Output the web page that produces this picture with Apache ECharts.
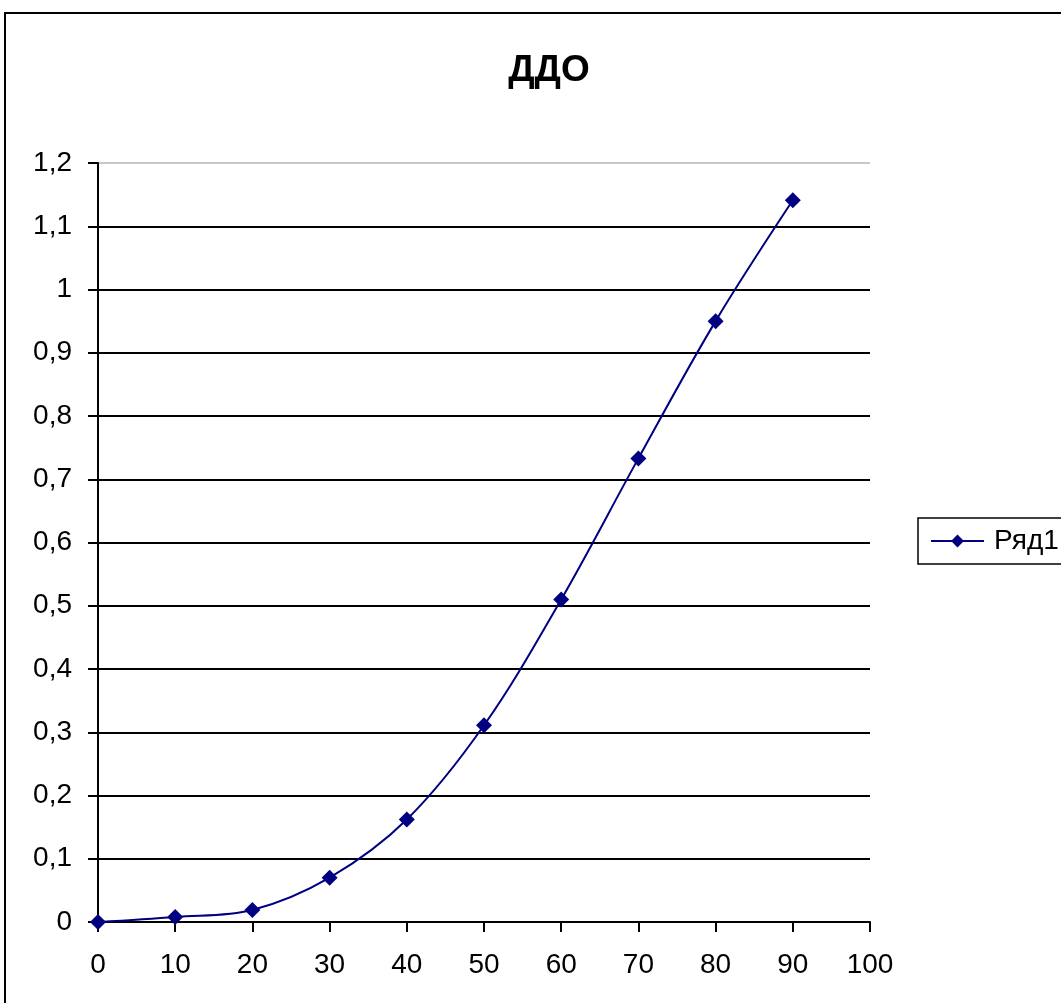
<!DOCTYPE html>
<html>
<head>
<meta charset="utf-8">
<title>ДДО</title>
<script src="https://cdn.jsdelivr.net/npm/echarts@6/dist/echarts.min.js"></script>
<style>
  html, body { margin: 0; padding: 0; background: #fff; }
  #chart { width: 1061px; height: 1003px; }
</style>
</head>
<body>
<div id="chart"></div>
<script>
// Angle values (x) and measured ДДО values (y)
const angles = [0, 10, 20, 30, 40, 50, 60, 70, 80, 90];
const ddoValues = [0, 0.008, 0.019, 0.07, 0.162, 0.311, 0.51, 0.733, 0.95, 1.141];
const seriesName = 'Ряд1';
const chartTitle = 'ДДО';

const points = angles.map((a, i) => [a, ddoValues[i]]);
const FONT = '"Liberation Sans", Arial, sans-serif';

// 13 horizontal grid lines (0 … 1,2): the topmost one is drawn light grey
const gridColors = Array.from({ length: 13 }, (_, i) => (i === 12 ? '#c8c8c8' : '#000'));

const chart = echarts.init(document.getElementById('chart'), null, { renderer: 'canvas' });
chart.setOption({
  backgroundColor: '#fff',
  animation: false,
  graphic: [{
    type: 'rect',
    shape: { x: 5, y: 13, width: 1200, height: 1200 },
    style: { fill: 'none', stroke: '#000', lineWidth: 2 },
    silent: true
  }],
  title: {
    text: chartTitle,
    left: 544,
    textAlign: 'center',
    top: 47,
    textStyle: { fontFamily: FONT, fontSize: 37, fontWeight: 'bold', color: '#000' }
  },
  legend: {
    left: 918,
    top: 518,
    orient: 'vertical',
    padding: [9, 12, 9, 12],
    borderColor: '#000',
    borderWidth: 1.5,
    itemWidth: 53,
    itemHeight: 16,
    textStyle: { fontFamily: FONT, fontSize: 28, color: '#000', padding: [0, 0, 0, 5] },
    data: [seriesName]
  },
  grid: { left: 98, right: 191, top: 163, bottom: 81 },
  xAxis: {
    type: 'value',
    min: 0, max: 100, interval: 10,
    axisLine: { lineStyle: { color: '#000', width: 2 } },
    axisTick: { show: true, length: 10, lineStyle: { color: '#000', width: 2 } },
    axisLabel: { margin: 29, color: '#000', fontFamily: FONT, fontSize: 28 },
    splitLine: { show: false }
  },
  yAxis: {
    type: 'value',
    min: 0, max: 1.2, interval: 0.1,
    axisLine: { show: true, lineStyle: { color: '#000', width: 2 } },
    axisTick: { show: true, length: 10, lineStyle: { color: '#000', width: 2 } },
    axisLabel: {
      margin: 26, color: '#000', fontFamily: FONT, fontSize: 28,
      formatter: v => String(Math.round(v * 10) / 10).replace('.', ',')
    },
    splitLine: { show: true, lineStyle: { color: gridColors, width: 2 } }
  },
  series: [{
    name: seriesName,
    type: 'line',
    data: points,
    smooth: 0.35,
    symbol: 'diamond',
    symbolSize: 16,
    itemStyle: { color: '#000080' },
    lineStyle: { color: '#000080', width: 2 }
  }]
});
</script>
</body>
</html>
